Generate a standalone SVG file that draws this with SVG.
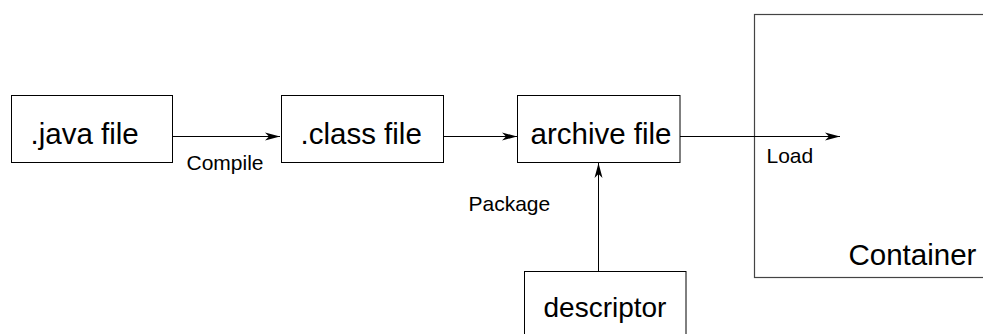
<svg xmlns="http://www.w3.org/2000/svg" width="983" height="334" viewBox="0 0 983 334">
  <defs>
    <marker id="arrow" markerUnits="userSpaceOnUse" markerWidth="16" markerHeight="10" viewBox="-15 -5 16 10" refX="0" refY="0" orient="auto">
      <path d="M0,0 L-15,-4 L-11,0 L-15,4 Z" fill="#000"/>
    </marker>
  </defs>
  <style>
    .box { fill: #fff; stroke: #000; stroke-width: 1; }
    .frame { fill: none; stroke: #444; stroke-width: 1.2; }
    .name { font-family: "Liberation Sans", Arial, sans-serif; font-size: 29.5px; fill: #000; }
    .label { font-family: "Liberation Sans", Arial, sans-serif; font-size: 21px; fill: #000; }
    .edge { fill: none; stroke: #000; stroke-width: 1; marker-end: url(#arrow); }
  </style>
  <rect width="983" height="334" fill="#fff"/>

  <g id="container">
    <rect class="frame" x="754.5" y="14.5" width="260" height="263"/>
    <text class="name" x="848.5" y="265">Container</text>
  </g>

  <g id="java-file">
    <rect class="box" x="11.5" y="95.5" width="161" height="67"/>
    <text class="name" x="30.5" y="144">.java file</text>
  </g>

  <g id="class-file">
    <rect class="box" x="281.5" y="95.5" width="162" height="67"/>
    <text class="name" x="300.5" y="144">.class file</text>
  </g>

  <g id="archive-file">
    <rect class="box" x="517.5" y="95.5" width="162.5" height="67"/>
    <text class="name" x="530.5" y="144">archive file</text>
  </g>

  <g id="descriptor">
    <rect class="box" x="524.5" y="271.5" width="161.5" height="80"/>
    <text class="name" x="543.5" y="317" style="font-size:28px">descriptor</text>
  </g>

  <g id="connectors">
    <line class="edge" x1="173" y1="136.5" x2="280" y2="136.5"/>
    <line class="edge" x1="444" y1="136.5" x2="517" y2="136.5"/>
    <line class="edge" x1="680" y1="136.5" x2="840" y2="136.5"/>
    <line class="edge" x1="598.5" y1="271" x2="598.5" y2="163"/>
    <text class="label" x="186.5" y="169.5">Compile</text>
    <text class="label" x="468.5" y="211">Package</text>
    <text class="label" x="766.5" y="163">Load</text>
  </g>
</svg>
